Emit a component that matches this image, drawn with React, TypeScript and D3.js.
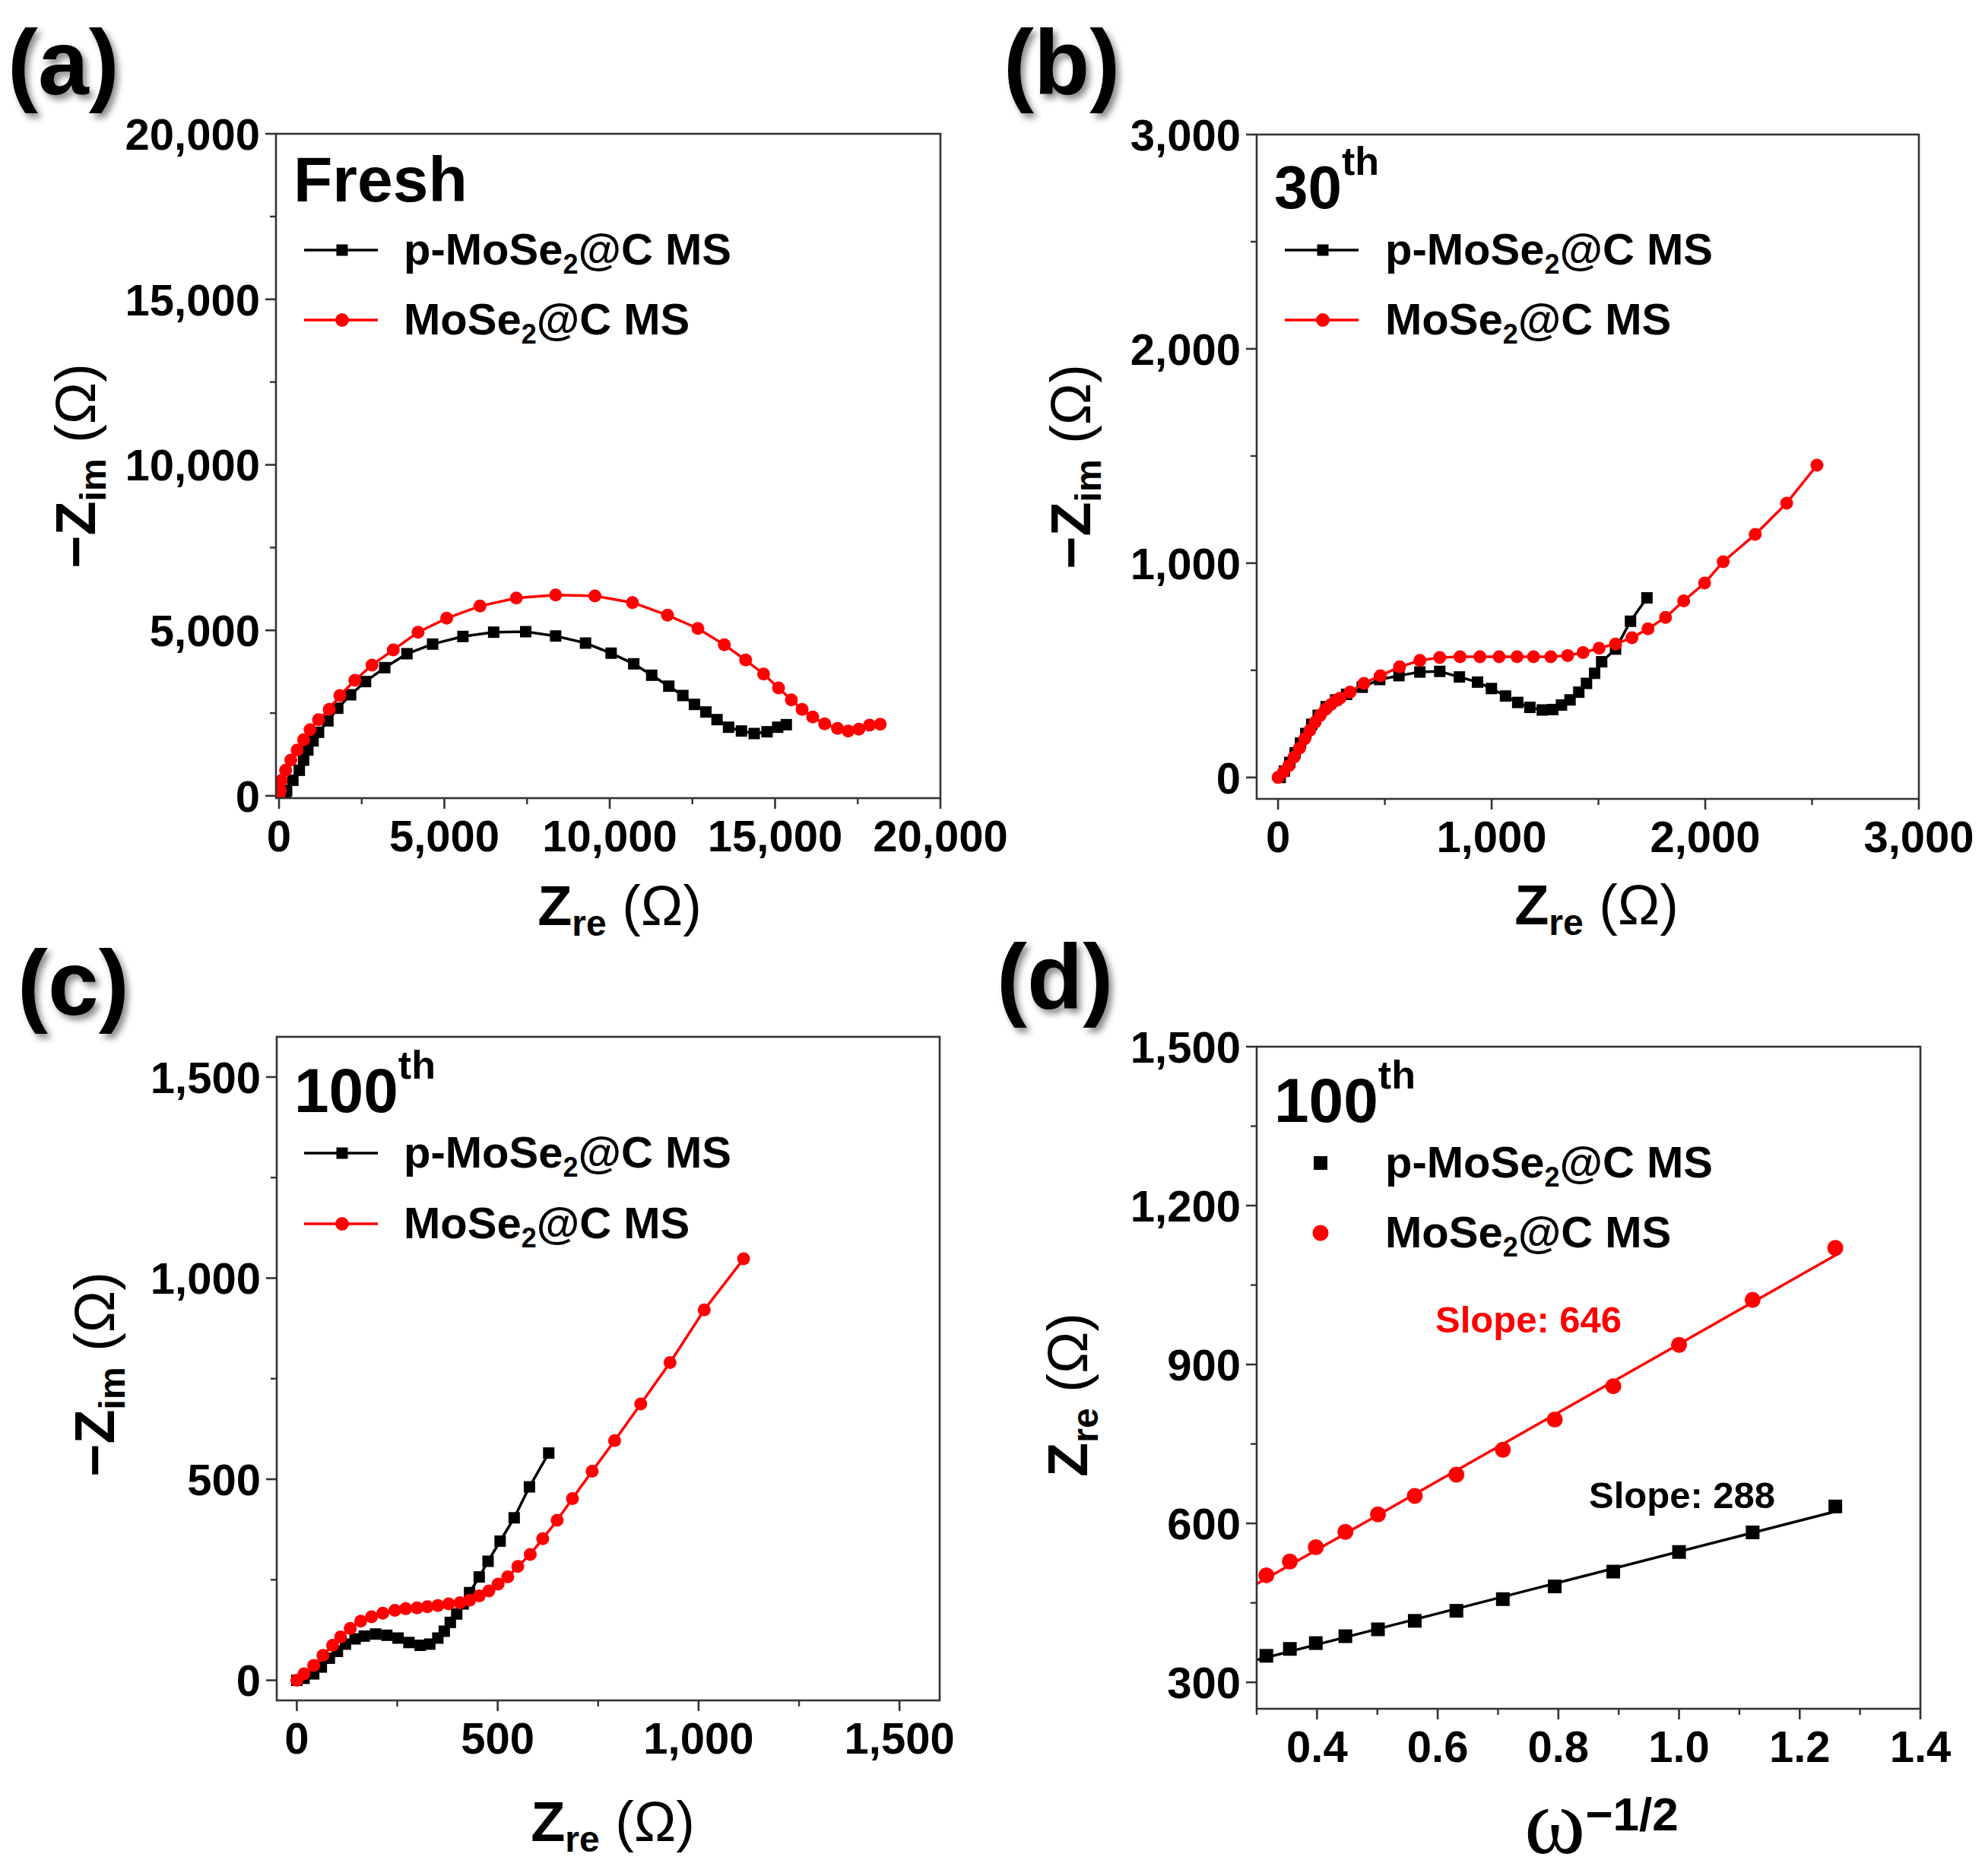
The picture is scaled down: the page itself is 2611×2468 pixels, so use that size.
import React from 'react'
import * as d3 from 'd3'

const FONT = "'Liberation Sans', Arial, Helvetica, sans-serif"
const RED = '#ff0000'
const BLACK = '#000000'

type Pt = [number, number]

// (a) Fresh
const freshP: Pt[] = [
  [200, 0], [230, 160], [420, 470], [614, 773], [743, 1079], [872, 1385], [1030, 1660],
  [1195, 1921], [1479, 2266], [1776, 2648], [2164, 3054], [2616, 3452], [3197, 3873],
  [3869, 4294], [4644, 4585], [5561, 4815], [6491, 4944], [7460, 4959], [8364, 4829],
  [9268, 4615], [10042, 4310], [10727, 3988], [11270, 3644], [11787, 3313], [12212, 3031],
  [12562, 2762], [12909, 2533], [13245, 2303], [13594, 2073], [13982, 1959], [14369, 1883],
  [14757, 1936], [15079, 2073], [15339, 2151],
]
const freshM: Pt[] = [
  [0, 20], [40, 160], [71, 467], [201, 773], [356, 1079], [549, 1385], [743, 1692],
  [937, 1998], [1195, 2303], [1518, 2610], [1841, 3031], [2293, 3490], [2810, 3949],
  [3455, 4408], [4205, 4944], [5070, 5365], [6077, 5733], [7175, 5977], [8364, 6069],
  [9552, 6038], [10688, 5839], [11748, 5457], [12665, 5058], [13466, 4562], [14111, 4103],
  [14653, 3680], [15105, 3260], [15493, 2900], [15817, 2610], [16139, 2381], [16500, 2174],
  [16888, 2036], [17210, 1959], [17534, 2013], [17857, 2135], [18180, 2166],
]

// (b) 30th cycle
const cyc30P: Pt[] = [
  [10, 0], [30, 30], [55, 70], [80, 115], [105, 160], [130, 205], [158, 248], [188, 290],
  [225, 330], [270, 362], [321, 388], [394, 421], [476, 457], [566, 475], [664, 492],
  [757, 495], [849, 469], [934, 445], [999, 415], [1065, 380], [1122, 350], [1179, 327],
  [1237, 315], [1286, 317], [1327, 338], [1367, 362], [1408, 398], [1444, 439], [1482, 486],
  [1515, 540], [1580, 599], [1650, 729], [1727, 838],
]
const cyc30M: Pt[] = [
  [0, 0], [25, 25], [50, 54], [75, 95], [100, 137], [125, 180], [149, 220], [174, 258],
  [198, 291], [222, 318], [247, 340], [270, 358], [290, 370], [337, 398], [402, 439],
  [479, 475], [569, 516], [664, 546], [757, 560], [852, 563], [945, 563], [1035, 563],
  [1119, 563], [1196, 563], [1277, 563], [1356, 569], [1428, 583], [1503, 603], [1580, 623],
  [1657, 652], [1732, 694], [1814, 747], [1899, 824], [1997, 907], [2084, 1007],
  [2234, 1134], [2381, 1280], [2523, 1457],
]

// (c) 100th cycle
const cyc100P: Pt[] = [
  [0, 0], [18, 5], [42, 16], [61, 33], [81, 55], [101, 72], [121, 90], [145, 103], [168, 110],
  [196, 115], [224, 112], [252, 105], [279, 94], [307, 87], [331, 90], [351, 105], [367, 122],
  [382, 144], [398, 165], [414, 190], [430, 218], [454, 257], [476, 296], [506, 346],
  [541, 404], [579, 481], [627, 565],
]
const cyc100M: Pt[] = [
  [0, 0], [18, 16], [42, 37], [65, 62], [89, 87], [109, 108], [133, 129], [159, 147],
  [186, 158], [214, 167], [244, 174], [271, 178], [299, 180], [325, 183], [351, 186],
  [378, 190], [406, 193], [430, 199], [454, 210], [478, 222], [501, 239], [525, 257],
  [550, 283], [581, 313], [612, 352], [648, 398], [686, 452], [735, 520], [791, 596],
  [856, 687], [929, 790], [1014, 921], [1112, 1048],
]

// (d) Warburg plot, 100th cycle
const omegaInv = [0.316, 0.355, 0.398, 0.447, 0.501, 0.562, 0.631, 0.708, 0.794, 0.891, 1.0, 1.122, 1.259]
const warburgP = [350, 363, 374, 387, 400, 416, 435, 457, 481, 509, 546, 583, 632]
const warburgM = [502, 528, 555, 584, 617, 652, 692, 739, 796, 859, 937, 1022, 1120]

const seriesNames = ['p-MoSe', 'MoSe']

type Box = { l: number; r: number; t: number; b: number }

const range = (a: number, b: number, s: number) => d3.range(a, b + s / 2, s)

function linFit(xs: number[], ys: number[]) {
  const mx = d3.mean(xs) as number
  const my = d3.mean(ys) as number
  let num = 0
  let den = 0
  xs.forEach((x, i) => {
    num += (x - mx) * (ys[i] - my)
    den += (x - mx) * (x - mx)
  })
  const slope = num / den
  return { slope, intercept: my - slope * mx }
}

interface AxesProps {
  box: Box
  x: d3.ScaleLinear<number, number>
  y: d3.ScaleLinear<number, number>
  xMajor: number[]
  xMinor: number[]
  yMajor: number[]
  yMinor: number[]
  xFmt: (v: number) => string
  yFmt: (v: number) => string
}

const Axes: React.FC<AxesProps> = ({ box, x, y, xMajor, xMinor, yMajor, yMinor, xFmt, yFmt }) => (
  <g>
    <rect x={box.l} y={box.t} width={box.r - box.l} height={box.b - box.t} fill="none" stroke="#333" strokeWidth={2.6} />
    {xMinor.map(v => (
      <line key={'xm' + v} x1={x(v)} x2={x(v)} y1={box.b} y2={box.b + 8} stroke="#333" strokeWidth={2.4} />
    ))}
    {xMajor.map(v => (
      <g key={'xM' + v}>
        <line x1={x(v)} x2={x(v)} y1={box.b} y2={box.b + 14} stroke="#333" strokeWidth={2.6} />
        <text x={x(v)} y={box.b + 70} textAnchor="middle" fontSize={58} fontWeight="bold">{xFmt(v)}</text>
      </g>
    ))}
    {yMinor.map(v => (
      <line key={'ym' + v} x1={box.l - 8} x2={box.l} y1={y(v)} y2={y(v)} stroke="#333" strokeWidth={2.4} />
    ))}
    {yMajor.map(v => (
      <g key={'yM' + v}>
        <line x1={box.l - 14} x2={box.l} y1={y(v)} y2={y(v)} stroke="#333" strokeWidth={2.6} />
        <text x={box.l - 21} y={y(v)} dy="0.36em" textAnchor="end" fontSize={58} fontWeight="bold">{yFmt(v)}</text>
      </g>
    ))}
  </g>
)

const Square: React.FC<{ cx: number; cy: number; s: number; fill: string }> = ({ cx, cy, s, fill }) => (
  <rect x={cx - s / 2} y={cy - s / 2} width={s} height={s} fill={fill} />
)

interface SeriesProps {
  data: Pt[]
  x: d3.ScaleLinear<number, number>
  y: d3.ScaleLinear<number, number>
  color: string
  shape: 'square' | 'circle'
  size: number
  showLine?: boolean
}

const Series: React.FC<SeriesProps> = ({ data, x, y, color, shape, size, showLine = true }) => {
  const line = d3.line<Pt>().x(d => x(d[0])).y(d => y(d[1]))
  return (
    <g>
      {showLine && <path d={line(data) || ''} fill="none" stroke={color} strokeWidth={3.5} />}
      {data.map((d, i) =>
        shape === 'square' ? (
          <Square key={i} cx={x(d[0])} cy={y(d[1])} s={size} fill={color} />
        ) : (
          <circle key={i} cx={x(d[0])} cy={y(d[1])} r={size / 2} fill={color} />
        )
      )}
    </g>
  )
}

const MoSeLabel: React.FC<{ x: number; y: number; prefix: string }> = ({ x, y, prefix }) => (
  <text x={x} y={y} fontSize={58} fontWeight="bold">
    {prefix}
    <tspan fontSize={36} dy={12}>2</tspan>
    <tspan dy={-12}>@C MS</tspan>
  </text>
)

const Legend: React.FC<{ lx: number; tx: number; rows: [number, number]; lines?: boolean }> = ({ lx, tx, rows, lines = true }) => (
  <g>
    {lines && <line x1={lx} x2={lx + 97} y1={rows[0]} y2={rows[0]} stroke={BLACK} strokeWidth={3.5} />}
    <Square cx={lx + 50} cy={rows[0]} s={lines ? 15 : 18} fill={BLACK} />
    <MoSeLabel x={tx} y={rows[0] + 19} prefix={seriesNames[0]} />
    {lines && <line x1={lx} x2={lx + 97} y1={rows[1]} y2={rows[1]} stroke={RED} strokeWidth={3.5} />}
    <circle cx={lx + 50} cy={rows[1]} r={lines ? 9 : 10.5} fill={RED} />
    <MoSeLabel x={tx} y={rows[1] + 19} prefix={seriesNames[1]} />
  </g>
)

const Cycle: React.FC<{ x: number; y: number; n: string; size: number }> = ({ x, y, n, size }) => (
  <text x={x} y={y} fontSize={size} fontWeight="bold">
    {n}
    <tspan fontSize={52} dy={-44}>th</tspan>
  </text>
)

const PanelLabel: React.FC<{ x: number; y: number; t: string }> = ({ x, y, t }) => (
  <text x={x} y={y} fontSize={120} fontWeight="bold" filter="url(#shadow)">{t}</text>
)

const YTitleZ: React.FC<{ x: number; cy: number; minus: boolean; sub: string }> = ({ x, cy, minus, sub }) => (
  <text transform={`translate(${x},${cy}) rotate(-90)`} textAnchor="middle" fontSize={74} fontWeight="bold">
    {minus ? '\u2212Z' : 'Z'}
    <tspan fontSize={48} dy={14}>{sub}</tspan>
    <tspan dy={-14} fontWeight="normal"> (Ω)</tspan>
  </text>
)

const XTitleZ: React.FC<{ cx: number; y: number }> = ({ cx, y }) => (
  <text x={cx} y={y} textAnchor="middle" fontSize={74} fontWeight="bold">
    Z<tspan fontSize={48} dy={14}>re</tspan>
    <tspan dy={-14} fontWeight="normal"> (Ω)</tspan>
  </text>
)

const fmtComma = d3.format(',')
const fmt1 = d3.format('.1f')

const App: React.FC = () => {
  // (a)
  const boxA: Box = { l: 363, r: 1237, t: 176, b: 1050 }
  const xA = d3.scaleLinear().domain([-92, 20000]).range([boxA.l, boxA.r])
  const yA = d3.scaleLinear().domain([-69, 20000]).range([boxA.b, boxA.t])
  // (b)
  const boxB: Box = { l: 1653, r: 2524, t: 177, b: 1051 }
  const xB = d3.scaleLinear().domain([-100, 3000]).range([boxB.l, boxB.r])
  const yB = d3.scaleLinear().domain([-100, 3000]).range([boxB.b, boxB.t])
  // (c)
  const boxC: Box = { l: 364, r: 1236, t: 1364, b: 2237 }
  const xC = d3.scaleLinear().domain([-50, 1600]).range([boxC.l, boxC.r])
  const yC = d3.scaleLinear().domain([-50, 1600]).range([boxC.b, boxC.t])
  // (d)
  const boxD: Box = { l: 1653, r: 2526, t: 1377, b: 2248 }
  const xD = d3.scaleLinear().domain([0.3, 1.4]).range([boxD.l, boxD.r])
  const yD = d3.scaleLinear().domain([250, 1500]).range([boxD.b, boxD.t])

  const boxes: Record<string, Box> = { A: boxA, B: boxB, C: boxC, D: boxD }

  const ptsDP: Pt[] = omegaInv.map((v, i) => [v, warburgP[i]])
  const ptsDM: Pt[] = omegaInv.map((v, i) => [v, warburgM[i]])
  const fitP = linFit(omegaInv, warburgP)
  const fitM = linFit(omegaInv, warburgM)
  const fitX: [number, number] = [0.3, (d3.max(omegaInv) as number) + 0.006]
  const fitLine = (f: { slope: number; intercept: number }) =>
    d3.line<number>().x(v => xD(v)).y(v => yD(f.slope * v + f.intercept))(fitX) || ''

  return (
    <svg
      width={2611}
      height={2468}
      viewBox="0 0 2611 2468"
      style={{ position: 'absolute', left: 0, top: 0, background: '#fff' }}
      fontFamily={FONT}
    >
      <defs>
        <filter id="shadow" x="-20%" y="-20%" width="160%" height="160%">
          <feDropShadow dx={5} dy={6} stdDeviation={4} floodColor="#000" floodOpacity={0.45} />
        </filter>
        {Object.keys(boxes).map(k => (
          <clipPath id={'clip' + k} key={k}>
            <rect x={boxes[k].l} y={boxes[k].t} width={boxes[k].r - boxes[k].l} height={boxes[k].b - boxes[k].t} />
          </clipPath>
        ))}
      </defs>
      <rect x={0} y={0} width={2611} height={2468} fill="#fff" />

      {/* (a) Fresh */}
      <PanelLabel x={10} y={124} t="(a)" />
      <g clipPath="url(#clipA)">
        <Series data={freshP} x={xA} y={yA} color={BLACK} shape="square" size={15} />
        <Series data={freshM} x={xA} y={yA} color={RED} shape="circle" size={17} />
      </g>
      <Axes box={boxA} x={xA} y={yA} xMajor={range(0, 20000, 5000)} xMinor={range(2500, 17500, 5000)}
        yMajor={range(0, 20000, 5000)} yMinor={range(2500, 17500, 5000)} xFmt={fmtComma} yFmt={fmtComma} />
      <text x={386} y={265} fontSize={84} fontWeight="bold">Fresh</text>
      <Legend lx={400} tx={531} rows={[329, 421]} />
      <XTitleZ cx={815} y={1217} />
      <YTitleZ x={125} cy={613} minus sub="im" />

      {/* (b) 30th */}
      <PanelLabel x={1320} y={124} t="(b)" />
      <g clipPath="url(#clipB)">
        <Series data={cyc30P} x={xB} y={yB} color={BLACK} shape="square" size={15} />
        <Series data={cyc30M} x={xB} y={yB} color={RED} shape="circle" size={17} />
      </g>
      <Axes box={boxB} x={xB} y={yB} xMajor={range(0, 3000, 1000)} xMinor={range(500, 2500, 1000)}
        yMajor={range(0, 3000, 1000)} yMinor={range(500, 2500, 1000)} xFmt={fmtComma} yFmt={fmtComma} />
      <Cycle x={1676} y={274} n="30" size={80} />
      <Legend lx={1690} tx={1822} rows={[329, 421]} />
      <XTitleZ cx={2100} y={1216} />
      <YTitleZ x={1434} cy={614} minus sub="im" />

      {/* (c) 100th */}
      <PanelLabel x={23} y={1335} t="(c)" />
      <g clipPath="url(#clipC)">
        <Series data={cyc100P} x={xC} y={yC} color={BLACK} shape="square" size={15} />
        <Series data={cyc100M} x={xC} y={yC} color={RED} shape="circle" size={17} />
      </g>
      <Axes box={boxC} x={xC} y={yC} xMajor={range(0, 1500, 500)} xMinor={range(250, 1250, 500)}
        yMajor={range(0, 1500, 500)} yMinor={range(250, 1250, 500)} xFmt={fmtComma} yFmt={fmtComma} />
      <Cycle x={387} y={1463} n="100" size={82} />
      <Legend lx={400} tx={531} rows={[1517, 1610]} />
      <XTitleZ cx={806} y={2422} />
      <YTitleZ x={150} cy={1808} minus sub="im" />

      {/* (d) Zre vs omega^-1/2 */}
      <PanelLabel x={1311} y={1327} t="(d)" />
      <g clipPath="url(#clipD)">
        <path d={fitLine(fitM)} fill="none" stroke={RED} strokeWidth={3.5} />
        <path d={fitLine(fitP)} fill="none" stroke={BLACK} strokeWidth={3.5} />
        <Series data={ptsDP} x={xD} y={yD} color={BLACK} shape="square" size={18} showLine={false} />
        <Series data={ptsDM} x={xD} y={yD} color={RED} shape="circle" size={21} showLine={false} />
      </g>
      <Axes box={boxD} x={xD} y={yD} xMajor={range(0.4, 1.4, 0.2)} xMinor={range(0.3, 1.3, 0.2)}
        yMajor={range(300, 1500, 300)} yMinor={range(450, 1350, 300)} xFmt={fmt1} yFmt={fmtComma} />
      <Cycle x={1676} y={1476} n="100" size={82} />
      <Legend lx={1687} tx={1822} rows={[1530, 1622]} lines={false} />
      <text x={1888} y={1753} fontSize={49} fontWeight="bold" fill={RED}>Slope: 646</text>
      <text x={2090} y={1984} fontSize={49} fontWeight="bold" fill={BLACK}>Slope: 288</text>
      <text x={2005} y={2438} fontWeight="bold">
        <tspan fontFamily="'Liberation Serif', 'Times New Roman', serif" fontSize={122} fontWeight="normal">ω</tspan>
        <tspan fontSize={62} dy={-30}>{'\u22121/2'}</tspan>
      </text>
      <YTitleZ x={1430} cy={1835} minus={false} sub="re" />
    </svg>
  )
}

export default App
